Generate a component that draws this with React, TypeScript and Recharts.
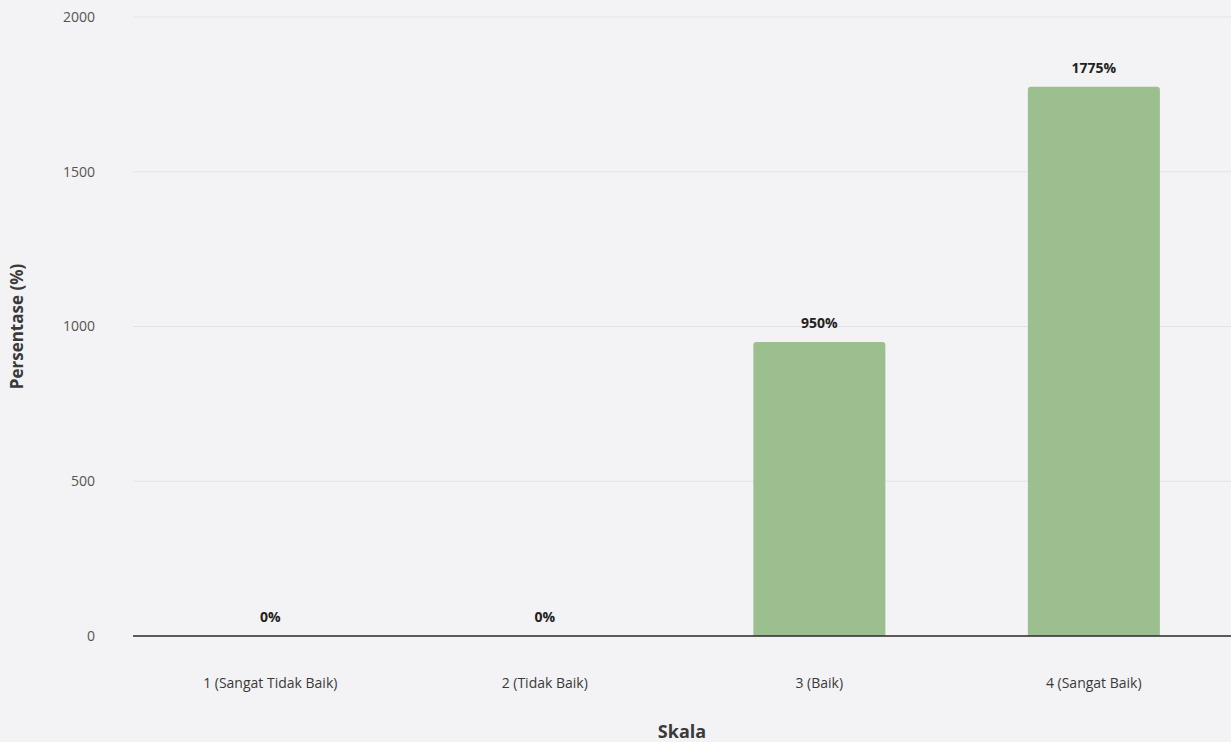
import React from 'react';
import { ComposedChart, Bar, Line, XAxis, YAxis, CartesianGrid } from 'recharts';

const categories = ['1 (Sangat Tidak Baik)', '2 (Tidak Baik)', '3 (Baik)', '4 (Sangat Baik)'];
const percentages = [0, 0, 950, 1775];
const yTicks = [0, 500, 1000, 1500, 2000];

const data = categories.map((skala, i) => ({ skala, value: percentages[i] }));

const FONT = '"Open Sans", "Noto Sans", sans-serif';

// bars of height 0 get no label from recharts, so the labels ride on an invisible line
const renderValue = (props: any) => {
  const { x, y, value, index } = props;
  return (
    <text
      key={`lbl-${index}`}
      x={x}
      y={Number(y) - 14}
      textAnchor="middle"
      fill="#222"
      fontSize={14}
      fontWeight={700}
      fontFamily={FONT}
    >
      {`${value}%`}
    </text>
  );
};

export default function App() {
  return (
    <div style={{ position: 'absolute', left: 0, top: 0, width: 1231, height: 742, background: '#f3f2f4', fontFamily: FONT }}>
      <ComposedChart
        width={1231}
        height={742}
        data={data}
        margin={{ top: 17, right: 0, bottom: 0, left: 0 }}
        barCategoryGap="26%"
      >
        <CartesianGrid vertical={false} stroke="#e4e2e6" strokeWidth={1} />
        <XAxis
          dataKey="skala"
          height={106}
          tickLine={false}
          axisLine={{ stroke: '#2b2b2b', strokeWidth: 1.5 }}
          tickMargin={36}
          tick={{ fill: '#3a3a3a', fontSize: 14, fontFamily: FONT }}
          label={{ value: 'Skala', position: 'insideBottom', offset: 4, fill: '#3a3a3a', fontSize: 18, fontWeight: 700, fontFamily: FONT }}
        />
        <YAxis
          width={133}
          domain={[0, 2000]}
          ticks={yTicks}
          tickLine={false}
          axisLine={false}
          tickMargin={32}
          tick={{ fill: '#555', fontSize: 14, fontFamily: FONT }}
          label={{ value: 'Persentase (%)', angle: -90, position: 'insideLeft', offset: 17, fill: '#3a3a3a', fontSize: 17, fontWeight: 700, fontFamily: FONT, style: { textAnchor: 'middle' } }}
        />
        <Bar dataKey="value" fill="#9cbf8f" radius={[3, 3, 0, 0]} isAnimationActive={false} />
        <Line
          dataKey="value"
          stroke="none"
          dot={false}
          activeDot={false}
          isAnimationActive={false}
          label={renderValue}
        />
      </ComposedChart>
    </div>
  );
}
